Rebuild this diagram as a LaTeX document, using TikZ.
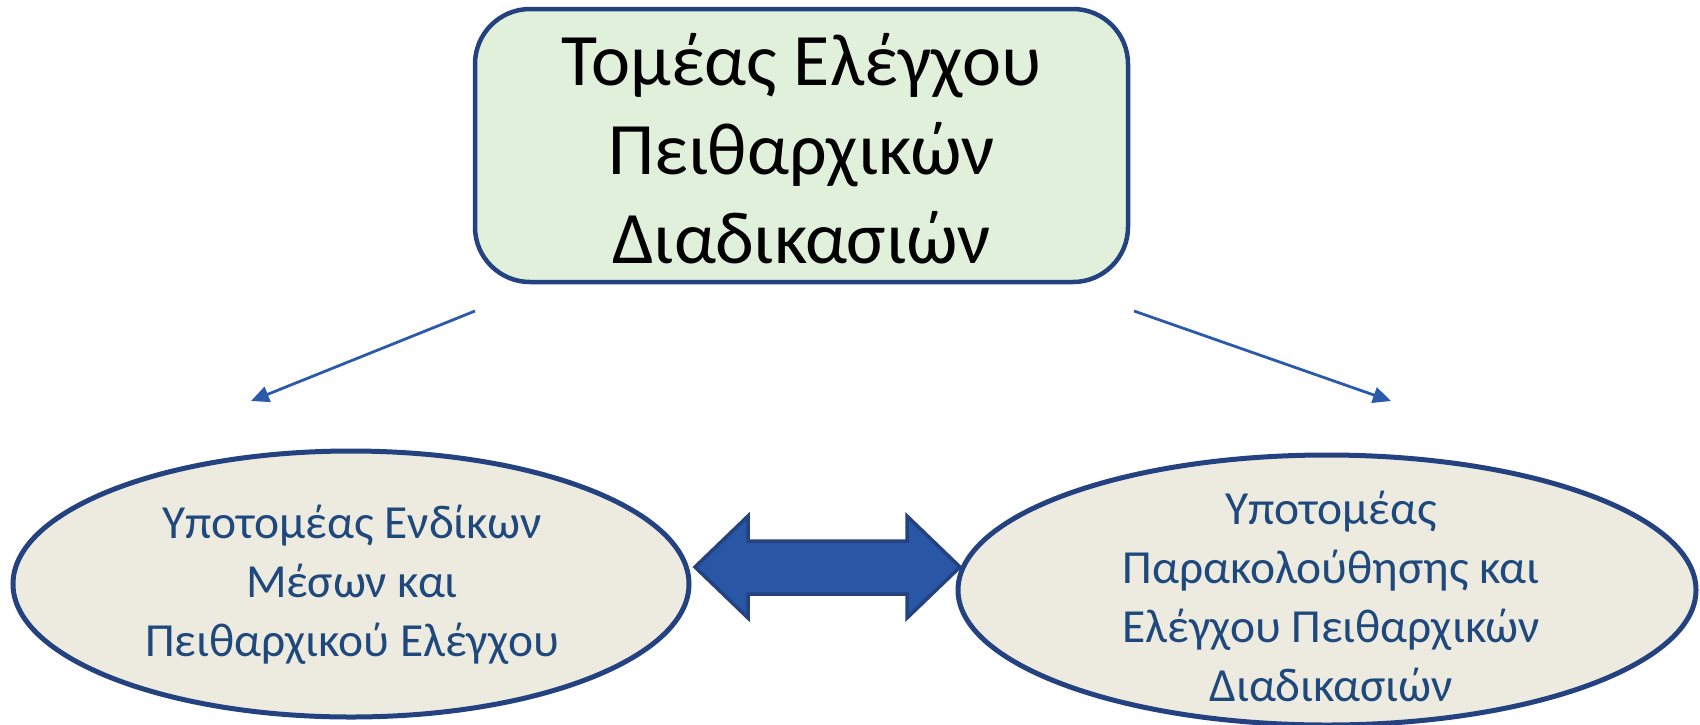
\documentclass[tikz,border=0pt]{standalone}
\usepackage{fontspec}
\setmainfont{Carlito}
\usetikzlibrary{arrows.meta,shapes.geometric}
\definecolor{boxborder}{RGB}{36,66,128}
\definecolor{boxfill}{RGB}{224,240,218}
\definecolor{ellfill}{RGB}{237,235,224}
\definecolor{elltext}{RGB}{31,73,125}
\definecolor{arrowblue}{RGB}{44,90,170}
\definecolor{dblfill}{RGB}{41,87,165}
\begin{document}
\begin{tikzpicture}[x=1pt,y=-1pt,
  topbox/.style={draw=boxborder,fill=boxfill,line width=4.5pt,rounded corners=55pt,
    minimum width=653pt,minimum height=273pt,inner sep=0pt},
  topfont/.style={font=\fontsize{74}{89}\selectfont,align=center},
  ellbox/.style={ellipse,draw=boxborder,fill=ellfill,line width=5pt,inner sep=0pt},
  elltxt/.style={font=\fontsize{47.5}{59}\selectfont,text=elltext,align=center,inner sep=0pt},
  thinarrow/.style={draw=arrowblue,line width=2.8pt,-{Triangle[length=18pt,width=16pt]}},
  dblarrow/.style={draw=boxborder,fill=dblfill,line width=3.5pt,line join=miter}
]
\useasboundingbox (0,0) rectangle (1700,724);
% top box
\node[topbox] (top) at (801.5,145.5) {};
\node[topfont] (toptxt) at (801.5,149) {Τομέας Ελέγχου\\Πειθαρχικών\\Διαδικασιών};
% ellipses
\node[ellbox,minimum width=676pt,minimum height=266pt] (left) at (351,584) {};
\node[elltxt] (lefttxt) at (352,585) {Υποτομέας Ενδίκων\\Μέσων και\\Πειθαρχικού Ελέγχου};
\node[ellbox,minimum width=738pt,minimum height=270pt] (right) at (1327,590) {};
\node[elltxt] (righttxt) at (1331,596) {Υποτομέας\\Παρακολούθησης και\\Ελέγχου Πειθαρχικών\\Διαδικασιών};
% thin arrows
\coordinate (la0) at (475,311);
\coordinate (la1) at (251,401);
\coordinate (ra0) at (1134,311);
\coordinate (ra1) at (1391,401);
\draw[thinarrow] (la0) -- (la1);
\draw[thinarrow] (ra0) -- (ra1);
% double arrow
\draw[dblarrow] (695,567) -- (748,516) -- (748,541) -- (907,541) -- (907,516)
  -- (960,567) -- (907,618) -- (907,594) -- (748,594) -- (748,618) -- cycle;
\end{tikzpicture}
\end{document}
